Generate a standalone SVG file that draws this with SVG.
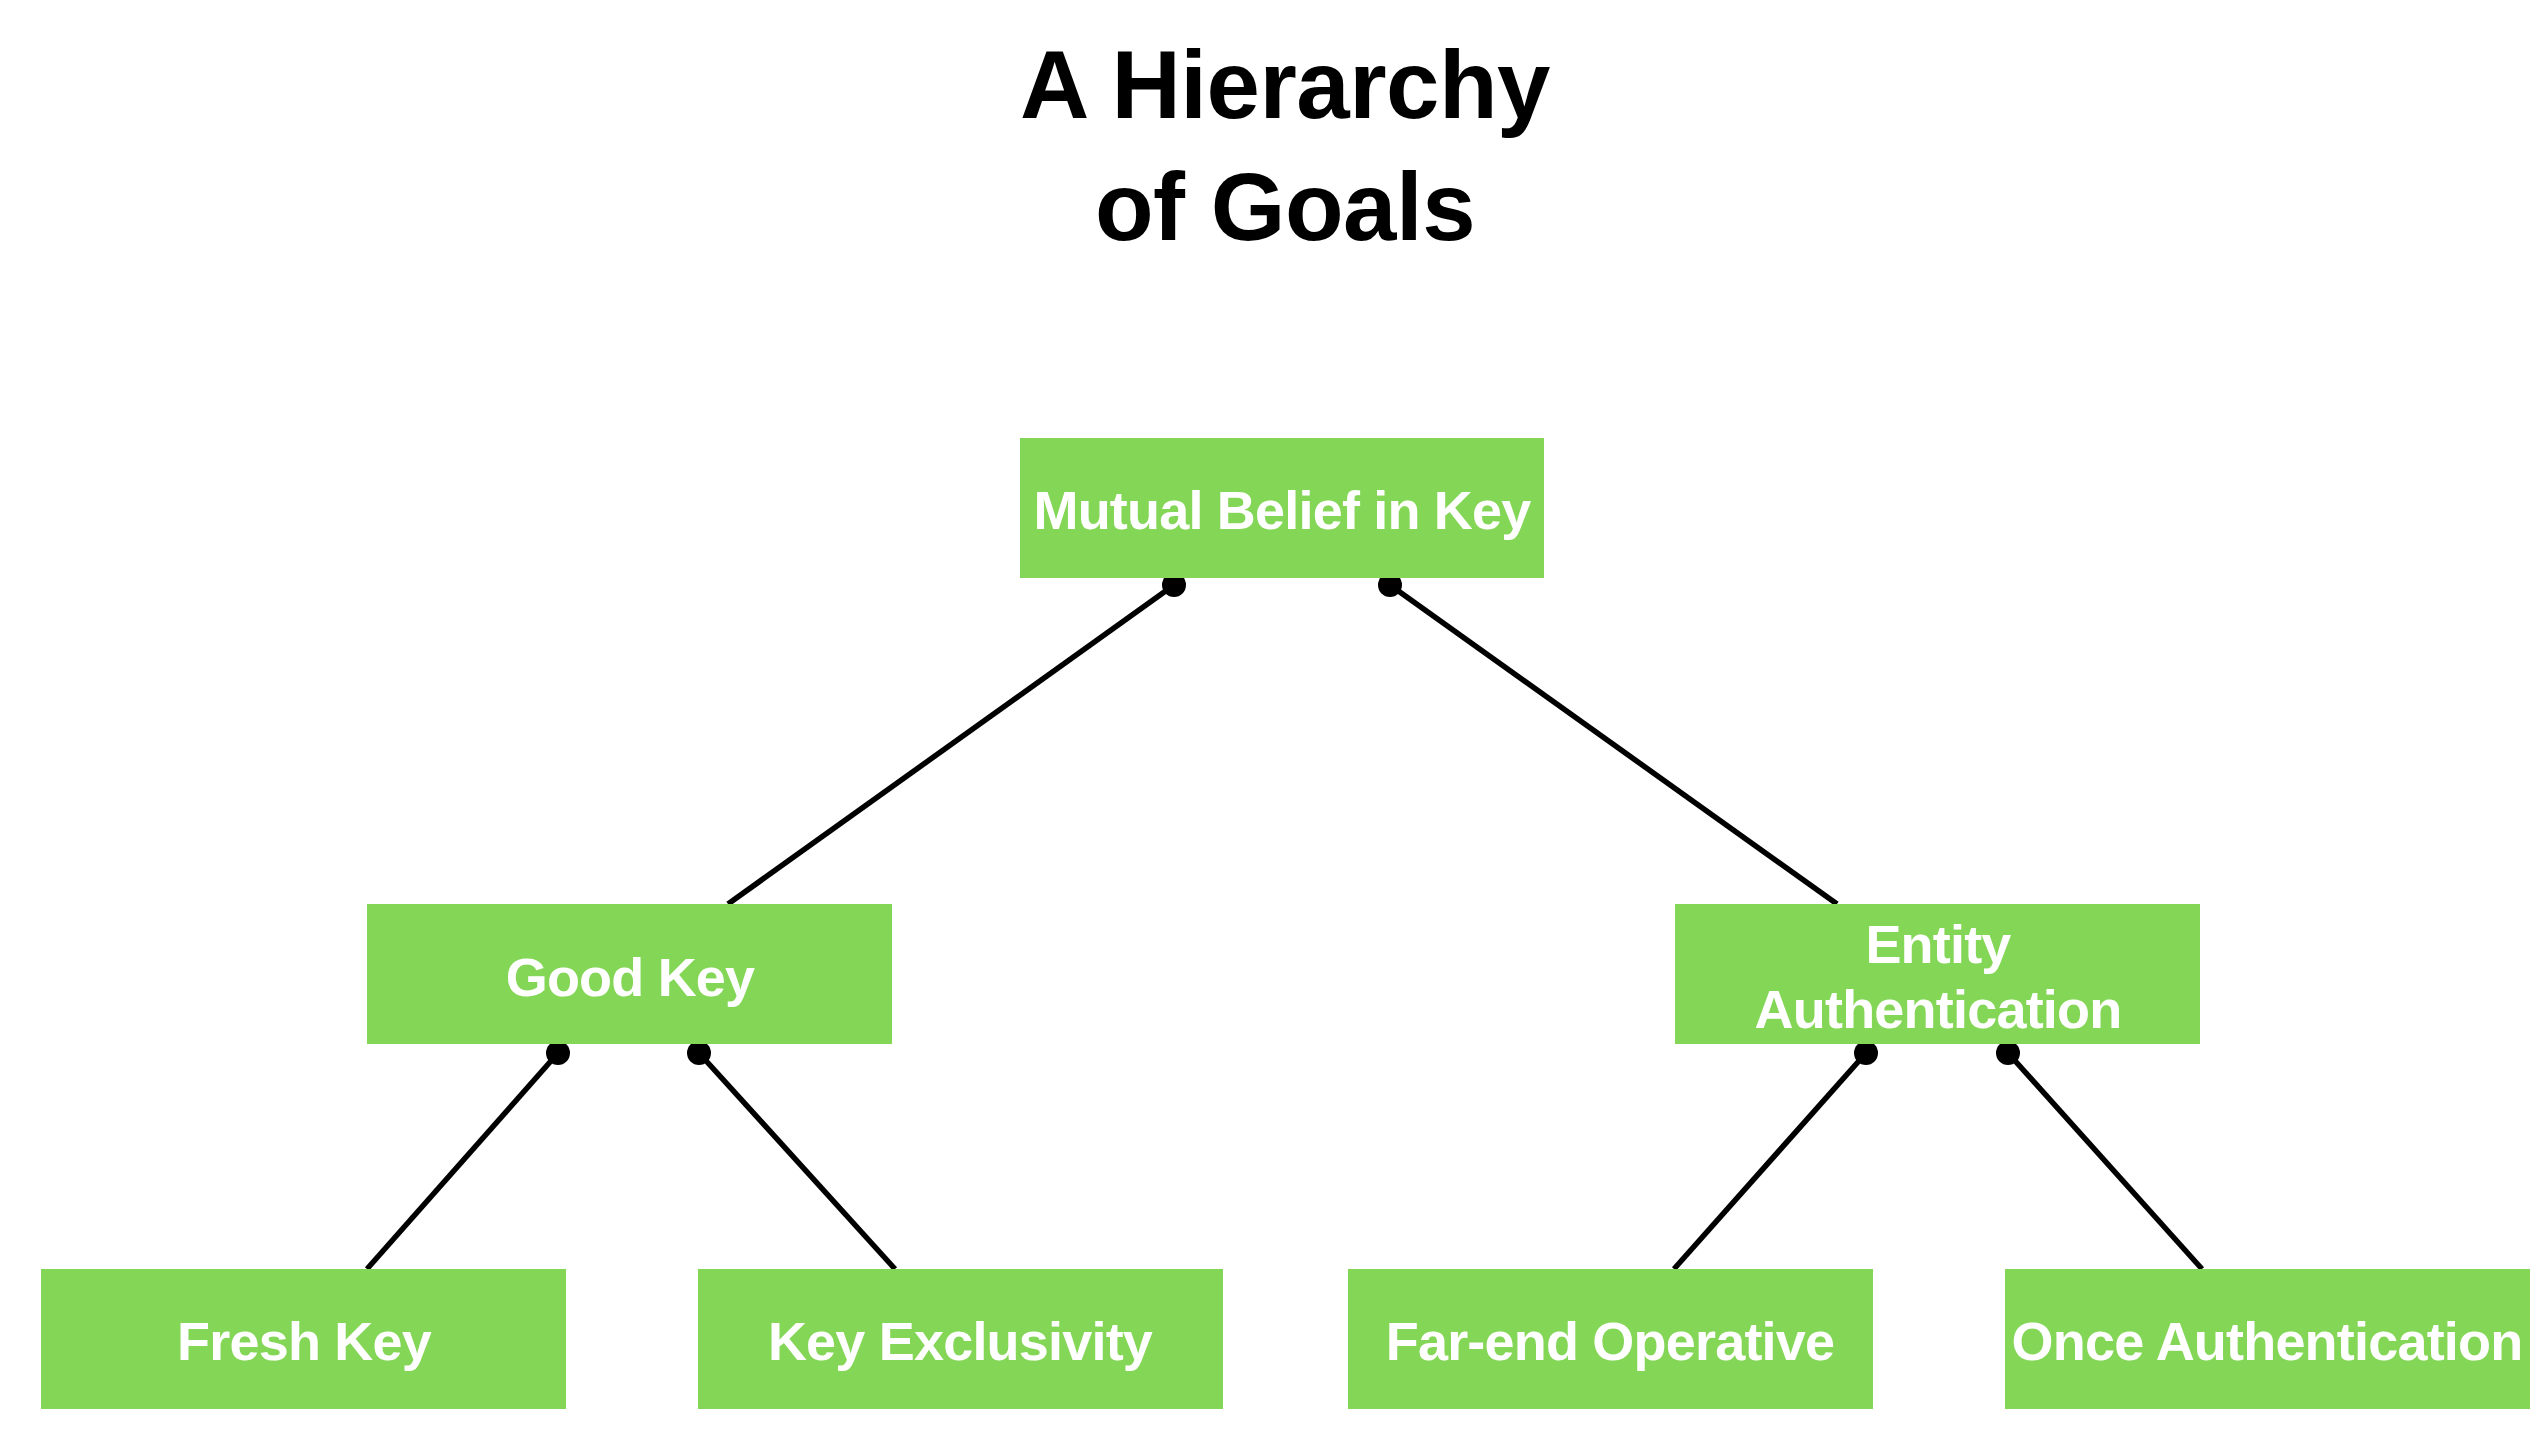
<svg xmlns="http://www.w3.org/2000/svg" width="2540" height="1432" viewBox="0 0 2540 1432">
<style>
.box{fill:#84D657;}
.lbl{font-family:"Liberation Sans",Arial,Helvetica,sans-serif;font-weight:bold;font-size:54px;fill:#ffffff;text-anchor:middle;letter-spacing:-0.8px;}
.title{font-family:"Liberation Sans",Arial,Helvetica,sans-serif;font-weight:bold;font-size:96px;fill:#000000;text-anchor:middle;letter-spacing:-0.5px;}
.edge{stroke:#000000;stroke-width:5.5;fill:none;}
.dot{fill:#000000;}
</style>
<rect width="2540" height="1432" fill="#ffffff"/>
<g id="title">
<text class="title" x="1285" y="118">A Hierarchy</text>
<text class="title" x="1285" y="240">of Goals</text>
</g>
<g id="connectors">
<line class="edge" x1="1174" y1="585" x2="728" y2="904"/>
<line class="edge" x1="1390" y1="585" x2="1837" y2="904"/>
<line class="edge" x1="558" y1="1053" x2="367" y2="1269"/>
<line class="edge" x1="699" y1="1053" x2="895" y2="1269"/>
<line class="edge" x1="1866" y1="1053" x2="1674" y2="1269"/>
<line class="edge" x1="2008" y1="1053" x2="2202" y2="1269"/>
<circle class="dot" cx="1174" cy="585" r="12"/>
<circle class="dot" cx="1390" cy="585" r="12"/>
<circle class="dot" cx="558" cy="1053" r="12"/>
<circle class="dot" cx="699" cy="1053" r="12"/>
<circle class="dot" cx="1866" cy="1053" r="12"/>
<circle class="dot" cx="2008" cy="1053" r="12"/>
</g>
<g id="mutual-belief">
<rect class="box" x="1020" y="438" width="524" height="140"/>
<text class="lbl" x="1282" y="529">Mutual Belief in Key</text>
</g>
<g id="good-key">
<rect class="box" x="367" y="904" width="525" height="140"/>
<text class="lbl" x="630" y="996">Good Key</text>
</g>
<g id="entity-auth">
<rect class="box" x="1675" y="904" width="525" height="140"/>
<text class="lbl" x="1938" y="963">Entity</text>
<text class="lbl" x="1938" y="1028">Authentication</text>
</g>
<g id="fresh-key">
<rect class="box" x="41" y="1269" width="525" height="140"/>
<text class="lbl" x="304" y="1360">Fresh Key</text>
</g>
<g id="key-exclusivity">
<rect class="box" x="698" y="1269" width="525" height="140"/>
<text class="lbl" x="960" y="1360">Key Exclusivity</text>
</g>
<g id="far-end-operative">
<rect class="box" x="1348" y="1269" width="525" height="140"/>
<text class="lbl" x="1610" y="1360">Far-end Operative</text>
</g>
<g id="once-auth">
<rect class="box" x="2005" y="1269" width="525" height="140"/>
<text class="lbl" x="2267" y="1360">Once Authentication</text>
</g>
</svg>
